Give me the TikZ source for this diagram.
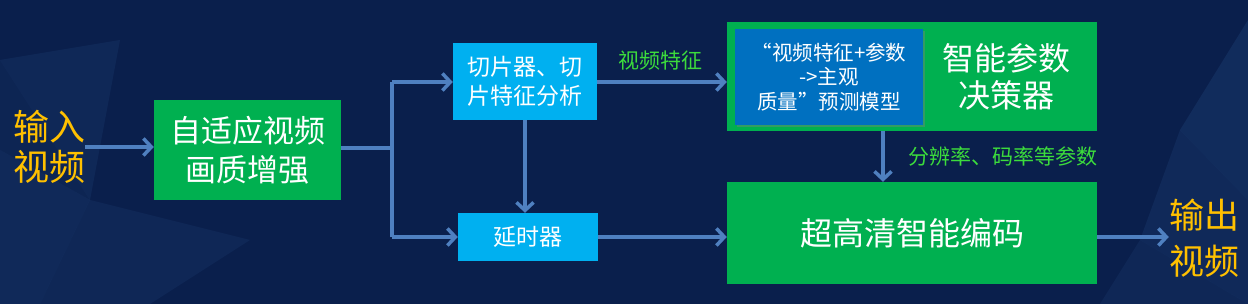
\documentclass[tikz,border=0pt]{standalone}
\usepackage{fontspec}
\setmainfont{Noto Sans CJK SC}
\usetikzlibrary{arrows.meta,shadows}
\definecolor{bgc}{HTML}{0A1F4C}
\definecolor{grn}{HTML}{00B050}
\definecolor{lblue}{HTML}{00B0F0}
\definecolor{dblue}{HTML}{0070C0}
\definecolor{arr}{HTML}{4F80C0}
\definecolor{ylw}{HTML}{FFC000}
\definecolor{lgrn}{HTML}{3CDC3C}
\definecolor{poly}{HTML}{4A8AD0}
\tikzset{
  gbox/.style={fill=grn, draw=none, inner sep=0pt, text=white, align=center},
  bbox/.style={fill=lblue, draw=none, inner sep=0pt, text=white, align=center},
  conn/.style={draw=arr, line width=4pt, -{Straight Barb[length=8pt,width=17pt,line width=3.5pt]}},
  seg/.style={draw=arr, line width=4pt},
  ytxt/.style={text=ylw, align=center, inner sep=0pt},
  ltxt/.style={text=lgrn, inner sep=0pt},
}
\begin{document}
\begin{tikzpicture}[x=1pt,y=-1pt]
\useasboundingbox (0,0) rectangle (1248,304);
\fill[bgc] (0,0) rectangle (1248,304);
% faint background polygons
\begin{scope}[fill=poly]
\fill[opacity=0.09] (0,60) -- (120,40) -- (90,200) -- cycle;
\fill[opacity=0.10] (0,150) -- (90,200) -- (40,304) -- (0,304) -- cycle;
\fill[opacity=0.08] (90,200) -- (250,240) -- (150,304) -- (40,304) -- cycle;
\fill[opacity=0.06] (0,60) -- (90,200) -- (0,150) -- cycle;
\fill[opacity=0.12] (1248,20) -- (1180,130) -- (1248,200) -- cycle;
\fill[opacity=0.10] (1180,130) -- (1140,240) -- (1248,304) -- (1248,200) -- cycle;
\fill[opacity=0.08] (1140,240) -- (1248,304) -- (1100,304) -- cycle;
\end{scope}
% nodes
\node[ytxt, font=\fontsize{36}{40}\selectfont] (in) at (49,147) {输入\\视频};
\node[gbox, minimum width=187pt, minimum height=100pt, font=\fontsize{31}{39}\selectfont] (enh) at (247.5,150) {自适应视频\\画质增强};
\node[bbox, minimum width=144pt, minimum height=77pt, font=\fontsize{23}{29}\selectfont] (sl) at (525,81.5) {切片器、切\\片特征分析};
\node[bbox, minimum width=140pt, minimum height=48pt, font=\fontsize{23}{29}\selectfont] (dl) at (528,237) {延时器};
\node[gbox, minimum width=370pt, minimum height=109pt] (dec) at (912,76.5) {};
\node[fill=dblue, inner sep=0pt, minimum width=188pt, minimum height=96pt, drop shadow={opacity=0.4,shadow xshift=2pt,shadow yshift=-2pt}, text=white, align=center, font=\fontsize{20.5}{24.5}\selectfont] (mdl) at (829,77) {“视频特征+参数\\->主观\\质量”预测模型};
\node[text=white, align=center, inner sep=0pt, font=\fontsize{32}{37}\selectfont] (dect) at (1006,77) {智能参数\\决策器};
\node[gbox, minimum width=370pt, minimum height=102pt, font=\fontsize{32}{38}\selectfont] (enc) at (912,233) {超高清智能编码};
\node[ytxt, font=\fontsize{35}{46}\selectfont] (out) at (1204,238) {输出\\视频};
% junction
\coordinate (j) at (392,148);
\coordinate (jt) at (392,82);
\coordinate (jb) at (392,237);
% connectors
\draw[conn] (in.east |- 0,147) -- (enh.west |- 0,147);
\draw[seg] (enh.east |- j) -- (j);
\draw[seg] (jt) -- (jb);
\draw[conn] (jt) -- (sl.west |- jt);
\draw[conn] (jb) -- (dl.west |- jb);
\draw[conn] (sl.south) -- (dl.north -| sl.south);
\draw[conn] (sl.east |- 0,82) -- (dec.west |- 0,82) node[ltxt, midway, above=10pt, xshift=-2pt, font=\fontsize{21}{24}\selectfont] {视频特征};
\draw[conn] (dl.east |- 0,237) -- (enc.west |- 0,237);
\draw[conn] (dec.south -| 883,0) -- (enc.north -| 883,0) node[ltxt, pos=0.5, anchor=west, xshift=23pt, font=\fontsize{21}{24}\selectfont] {分辨率、码率等参数};
\draw[conn] (enc.east |- 0,237) -- (out.west |- 0,237);
\end{tikzpicture}
\end{document}
